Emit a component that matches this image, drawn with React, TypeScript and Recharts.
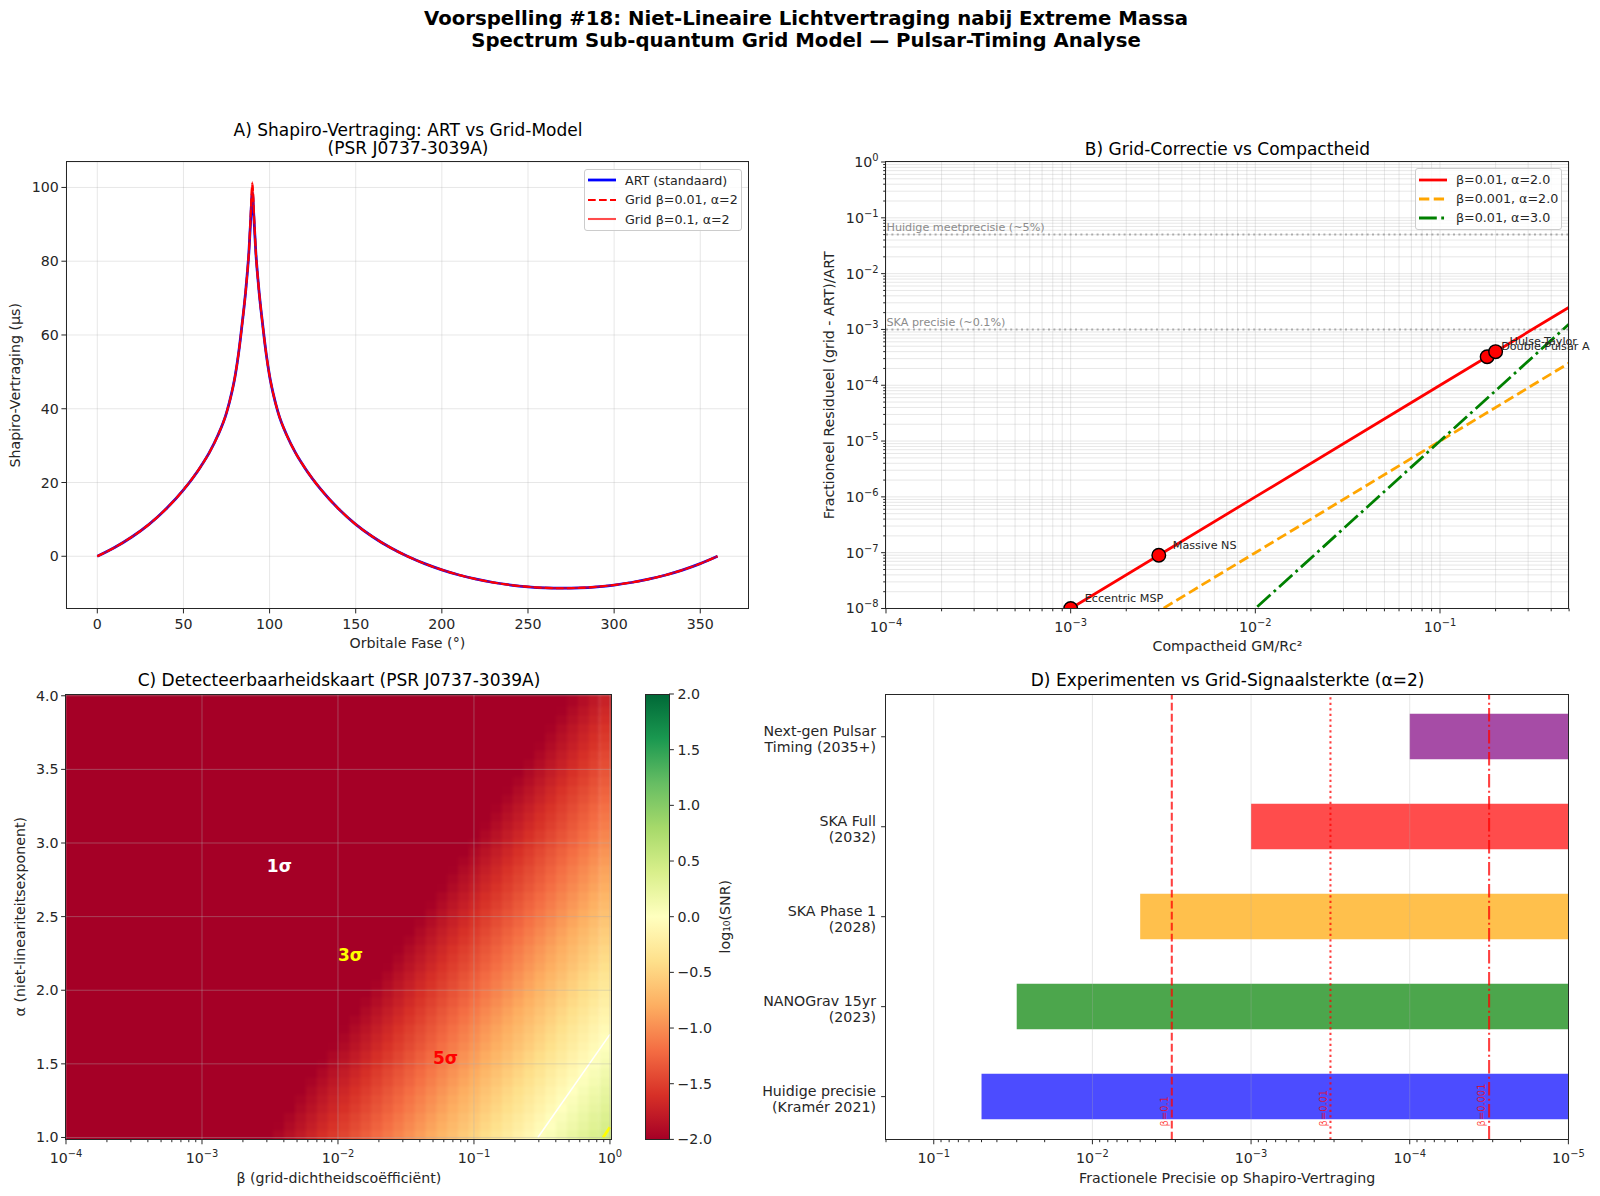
import {
  BarChart, Bar, Cell, CartesianGrid, ComposedChart, Legend, Line, LineChart, ReferenceDot,
  ReferenceLine, Scatter, ScatterChart, XAxis, YAxis,
} from 'recharts'

const FONT = '"DejaVu Sans", sans-serif'
const INK = '#262626'
const TICK_SIZE = 14.2

// A) Shapiro delay
const phases = [0, 10, 20, 30, 40, 50, 60, 65, 70, 75, 78, 80, 82, 83, 85, 86, 87, 88, 89, 90, 91, 92, 93, 94, 95, 97, 98, 100, 102, 105, 110, 115, 120, 130, 140, 150, 160, 170, 180, 190, 200, 210, 220, 230, 240, 250, 260, 270, 280, 290, 300, 310, 320, 330, 340, 350, 360]
const artDelay = [0, 2.38, 5.23, 8.66, 12.87, 18, 24.3, 28.1, 32.8, 38.9, 44.3, 48.9, 55, 58.7, 66.8, 71.2, 76.4, 82.5, 91, 98.6, 91, 82.5, 76.4, 71.2, 66.8, 58.7, 55, 48.9, 44.3, 38.9, 32.8, 28.1, 24.3, 18, 12.87, 8.66, 5.23, 2.38, 0, -2, -3.68, -5.07, -6.2, -7.11, -7.8, -8.28, -8.57, -8.66, -8.57, -8.28, -7.8, -7.11, -6.2, -5.07, -3.68, -2, 0]
const gridDelay001 = [0, 2.38, 5.23, 8.66, 12.87, 18, 24.3, 28.1, 32.8, 38.9, 44.3, 48.9, 55, 58.7, 66.8, 71.2, 76.4, 82.5, 92, 101, 92, 82.5, 76.4, 71.2, 66.8, 58.7, 55, 48.9, 44.3, 38.9, 32.8, 28.1, 24.3, 18, 12.87, 8.66, 5.23, 2.38, 0, -2, -3.68, -5.07, -6.2, -7.11, -7.8, -8.28, -8.57, -8.66, -8.57, -8.28, -7.8, -7.11, -6.2, -5.07, -3.68, -2, 0]
const gridDelay01 = [0, 2.38, 5.23, 8.66, 12.87, 18, 24.3, 28.1, 32.8, 38.9, 44.3, 48.9, 55, 58.7, 66.8, 71.2, 76.4, 82.6, 92.2, 101.4, 92.2, 82.6, 76.4, 71.2, 66.8, 58.7, 55, 48.9, 44.3, 38.9, 32.8, 28.1, 24.3, 18, 12.87, 8.66, 5.23, 2.38, 0, -2, -3.68, -5.07, -6.2, -7.11, -7.8, -8.28, -8.57, -8.66, -8.57, -8.28, -7.8, -7.11, -6.2, -5.07, -3.68, -2, 0]
const phaseTicks = [0, 50, 100, 150, 200, 250, 300, 350]
const delayTicks = [0, 20, 40, 60, 80, 100]

// B) residual vs compactness
const compactness = [1e-4, 1e-3, 1e-2, 1e-1, 0.5]
const residualA = [1e-10, 1e-8, 1e-6, 1e-4, 2.5e-3]
const residualB = [1e-11, 1e-9, 1e-7, 1e-5, 2.5e-4]
const residualC = [1e-14, 1e-11, 1e-8, 1e-5, 1.25e-3]
const pulsarNames = ['Eccentric MSP', 'Massive NS', 'Double Pulsar A', 'Hulse-Taylor']
const pulsarX = [1e-3, 3e-3, 0.18, 0.2]
const pulsarY = [1e-8, 9e-8, 3.24e-4, 4e-4]
const compactMajors = [1e-4, 1e-3, 1e-2, 1e-1]
const residualMajors = [1e-8, 1e-7, 1e-6, 1e-5, 1e-4, 1e-3, 1e-2, 1e-1, 1]
const minorSteps = [2, 3, 4, 5, 6, 7, 8, 9]

// C) log10(SNR). Each row starts at the beta=1 edge and runs to the left; columns past its end sit at the -2 floor.
const betaCenters = [0.93, 0.759, 0.631, 0.525, 0.437, 0.363, 0.302, 0.251, 0.209, 0.174, 0.145, 0.12, 0.1, 0.0832, 0.0692, 0.0575, 0.0479, 0.0398, 0.0331, 0.0275, 0.0229, 0.0191, 0.0158, 0.0132, 0.011, 9.12e-3, 7.59e-3, 6.31e-3, 5.25e-3, 4.37e-3, 3.63e-3, 3.02e-3, 2.51e-3, 2.09e-3, 1.74e-3, 1.45e-3, 1.2e-3, 1e-3, 8.32e-4, 6.92e-4, 5.75e-4, 4.79e-4, 3.98e-4, 3.31e-4, 2.75e-4, 2.29e-4, 1.91e-4, 1.58e-4, 1.32e-4, 1.1e-4]
const alphaCenters = [1.02, 1.08, 1.14, 1.2, 1.26, 1.32, 1.38, 1.44, 1.5, 1.56, 1.62, 1.68, 1.74, 1.8, 1.86, 1.92, 1.98, 2.04, 2.1, 2.16, 2.22, 2.28, 2.34, 2.4, 2.46, 2.52, 2.58, 2.64, 2.7, 2.76, 2.82, 2.88, 2.94, 3, 3.06, 3.12, 3.18, 3.24, 3.3, 3.36, 3.42, 3.48, 3.54, 3.6, 3.66, 3.72, 3.78, 3.84, 3.9, 3.96]
const snrRows = [
  [.46, .38, .30, .22, .14, .06, -.02, -.10, -.18, -.26, -.34, -.42, -.50, -.58, -.66, -.74, -.82, -.90, -.98, -1.06, -1.14, -1.22, -1.30, -1.38, -1.46, -1.54, -1.62, -1.70, -1.78, -1.86, -1.94],
  [.41, .33, .25, .17, .09, .01, -.07, -.15, -.23, -.31, -.39, -.47, -.55, -.63, -.71, -.79, -.87, -.95, -1.03, -1.11, -1.19, -1.27, -1.35, -1.43, -1.51, -1.59, -1.67, -1.75, -1.83, -1.91, -1.99],
  [.37, .29, .21, .13, .05, -.03, -.11, -.19, -.27, -.35, -.43, -.51, -.59, -.67, -.75, -.83, -.91, -.99, -1.07, -1.15, -1.23, -1.31, -1.39, -1.47, -1.55, -1.63, -1.71, -1.79, -1.87, -1.95],
  [.32, .24, .16, .08, 0, -.08, -.16, -.24, -.32, -.40, -.48, -.56, -.64, -.72, -.80, -.88, -.96, -1.04, -1.12, -1.20, -1.28, -1.36, -1.44, -1.52, -1.60, -1.68, -1.76, -1.84, -1.92],
  [.28, .20, .12, .04, -.04, -.12, -.20, -.28, -.36, -.44, -.52, -.60, -.68, -.76, -.84, -.92, -1.00, -1.08, -1.16, -1.24, -1.32, -1.40, -1.48, -1.56, -1.64, -1.72, -1.80, -1.88, -1.96],
  [.24, .16, .08, 0, -.08, -.16, -.24, -.32, -.40, -.48, -.56, -.64, -.72, -.80, -.88, -.96, -1.04, -1.12, -1.20, -1.28, -1.36, -1.44, -1.52, -1.60, -1.68, -1.76, -1.84, -1.92],
  [.19, .11, .03, -.05, -.13, -.21, -.29, -.37, -.45, -.53, -.61, -.69, -.77, -.85, -.93, -1.01, -1.09, -1.17, -1.25, -1.33, -1.41, -1.49, -1.57, -1.65, -1.73, -1.81, -1.89, -1.97],
  [.15, .07, -.01, -.09, -.17, -.25, -.33, -.41, -.49, -.57, -.65, -.73, -.81, -.89, -.97, -1.05, -1.13, -1.21, -1.29, -1.37, -1.45, -1.53, -1.61, -1.69, -1.77, -1.85, -1.93],
  [.10, .02, -.06, -.14, -.22, -.30, -.38, -.46, -.54, -.62, -.70, -.78, -.86, -.94, -1.02, -1.10, -1.18, -1.26, -1.34, -1.42, -1.50, -1.58, -1.66, -1.74, -1.82, -1.90, -1.98],
  [.06, -.02, -.10, -.18, -.26, -.34, -.42, -.50, -.58, -.66, -.74, -.82, -.90, -.98, -1.06, -1.14, -1.22, -1.30, -1.38, -1.46, -1.54, -1.62, -1.70, -1.78, -1.86, -1.94],
  [.01, -.07, -.15, -.23, -.31, -.39, -.47, -.55, -.63, -.71, -.79, -.87, -.95, -1.03, -1.11, -1.19, -1.27, -1.35, -1.43, -1.51, -1.59, -1.67, -1.75, -1.83, -1.91, -1.99],
  [-.03, -.11, -.19, -.27, -.35, -.43, -.51, -.59, -.67, -.75, -.83, -.91, -.99, -1.07, -1.15, -1.23, -1.31, -1.39, -1.47, -1.55, -1.63, -1.71, -1.79, -1.87, -1.95],
  [-.07, -.15, -.23, -.31, -.39, -.47, -.55, -.63, -.71, -.79, -.87, -.95, -1.03, -1.11, -1.19, -1.27, -1.35, -1.43, -1.51, -1.59, -1.67, -1.75, -1.83, -1.91, -1.99],
  [-.12, -.20, -.28, -.36, -.44, -.52, -.60, -.68, -.76, -.84, -.92, -1.00, -1.08, -1.16, -1.24, -1.32, -1.40, -1.48, -1.56, -1.64, -1.72, -1.80, -1.88, -1.96],
  [-.16, -.24, -.32, -.40, -.48, -.56, -.64, -.72, -.80, -.88, -.96, -1.04, -1.12, -1.20, -1.28, -1.36, -1.44, -1.52, -1.60, -1.68, -1.76, -1.84, -1.92],
  [-.21, -.29, -.37, -.45, -.53, -.61, -.69, -.77, -.85, -.93, -1.01, -1.09, -1.17, -1.25, -1.33, -1.41, -1.49, -1.57, -1.65, -1.73, -1.81, -1.89, -1.97],
  [-.25, -.33, -.41, -.49, -.57, -.65, -.73, -.81, -.89, -.97, -1.05, -1.13, -1.21, -1.29, -1.37, -1.45, -1.53, -1.61, -1.69, -1.77, -1.85, -1.93],
  [-.30, -.38, -.46, -.54, -.62, -.70, -.78, -.86, -.94, -1.02, -1.10, -1.18, -1.26, -1.34, -1.42, -1.50, -1.58, -1.66, -1.74, -1.82, -1.90, -1.98],
  [-.34, -.42, -.50, -.58, -.66, -.74, -.82, -.90, -.98, -1.06, -1.14, -1.22, -1.30, -1.38, -1.46, -1.54, -1.62, -1.70, -1.78, -1.86, -1.94],
  [-.39, -.47, -.55, -.63, -.71, -.79, -.87, -.95, -1.03, -1.11, -1.19, -1.27, -1.35, -1.43, -1.51, -1.59, -1.67, -1.75, -1.83, -1.91, -1.99],
  [-.43, -.51, -.59, -.67, -.75, -.83, -.91, -.99, -1.07, -1.15, -1.23, -1.31, -1.39, -1.47, -1.55, -1.63, -1.71, -1.79, -1.87, -1.95],
  [-.47, -.55, -.63, -.71, -.79, -.87, -.95, -1.03, -1.11, -1.19, -1.27, -1.35, -1.43, -1.51, -1.59, -1.67, -1.75, -1.83, -1.91, -1.99],
  [-.52, -.60, -.68, -.76, -.84, -.92, -1.00, -1.08, -1.16, -1.24, -1.32, -1.40, -1.48, -1.56, -1.64, -1.72, -1.80, -1.88, -1.96],
  [-.56, -.64, -.72, -.80, -.88, -.96, -1.04, -1.12, -1.20, -1.28, -1.36, -1.44, -1.52, -1.60, -1.68, -1.76, -1.84, -1.92],
  [-.61, -.69, -.77, -.85, -.93, -1.01, -1.09, -1.17, -1.25, -1.33, -1.41, -1.49, -1.57, -1.65, -1.73, -1.81, -1.89, -1.97],
  [-.65, -.73, -.81, -.89, -.97, -1.05, -1.13, -1.21, -1.29, -1.37, -1.45, -1.53, -1.61, -1.69, -1.77, -1.85, -1.93],
  [-.70, -.78, -.86, -.94, -1.02, -1.10, -1.18, -1.26, -1.34, -1.42, -1.50, -1.58, -1.66, -1.74, -1.82, -1.90, -1.98],
  [-.74, -.82, -.90, -.98, -1.06, -1.14, -1.22, -1.30, -1.38, -1.46, -1.54, -1.62, -1.70, -1.78, -1.86, -1.94],
  [-.79, -.87, -.95, -1.03, -1.11, -1.19, -1.27, -1.35, -1.43, -1.51, -1.59, -1.67, -1.75, -1.83, -1.91, -1.99],
  [-.83, -.91, -.99, -1.07, -1.15, -1.23, -1.31, -1.39, -1.47, -1.55, -1.63, -1.71, -1.79, -1.87, -1.95],
  [-.87, -.95, -1.03, -1.11, -1.19, -1.27, -1.35, -1.43, -1.51, -1.59, -1.67, -1.75, -1.83, -1.91, -1.99],
  [-.92, -1.00, -1.08, -1.16, -1.24, -1.32, -1.40, -1.48, -1.56, -1.64, -1.72, -1.80, -1.88, -1.96],
  [-.96, -1.04, -1.12, -1.20, -1.28, -1.36, -1.44, -1.52, -1.60, -1.68, -1.76, -1.84, -1.92],
  [-1.01, -1.09, -1.17, -1.25, -1.33, -1.41, -1.49, -1.57, -1.65, -1.73, -1.81, -1.89, -1.97],
  [-1.05, -1.13, -1.21, -1.29, -1.37, -1.45, -1.53, -1.61, -1.69, -1.77, -1.85, -1.93],
  [-1.10, -1.18, -1.26, -1.34, -1.42, -1.50, -1.58, -1.66, -1.74, -1.82, -1.90, -1.98],
  [-1.14, -1.22, -1.30, -1.38, -1.46, -1.54, -1.62, -1.70, -1.78, -1.86, -1.94],
  [-1.18, -1.26, -1.34, -1.42, -1.50, -1.58, -1.66, -1.74, -1.82, -1.90, -1.98],
  [-1.23, -1.31, -1.39, -1.47, -1.55, -1.63, -1.71, -1.79, -1.87, -1.95],
  [-1.27, -1.35, -1.43, -1.51, -1.59, -1.67, -1.75, -1.83, -1.91, -1.99],
  [-1.32, -1.40, -1.48, -1.56, -1.64, -1.72, -1.80, -1.88, -1.96],
  [-1.36, -1.44, -1.52, -1.60, -1.68, -1.76, -1.84, -1.92],
  [-1.41, -1.49, -1.57, -1.65, -1.73, -1.81, -1.89, -1.97],
  [-1.45, -1.53, -1.61, -1.69, -1.77, -1.85, -1.93],
  [-1.50, -1.58, -1.66, -1.74, -1.82, -1.90, -1.98],
  [-1.54, -1.62, -1.70, -1.78, -1.86, -1.94],
  [-1.58, -1.66, -1.74, -1.82, -1.90, -1.98],
  [-1.63, -1.71, -1.79, -1.87, -1.95],
  [-1.67, -1.75, -1.83, -1.91, -1.99],
  [-1.72, -1.80, -1.88, -1.96],
]
const contour1Beta = [0.295, 1]
const contour1Alpha = [1, 1.7]
const contour3Beta = [0.89, 1]
const contour3Alpha = [1, 1.07]
const betaMajors = [1e-4, 1e-3, 1e-2, 1e-1, 1]
const alphaTicks = [1, 1.5, 2, 2.5, 3, 3.5, 4]
const sigmaNames = ['1σ', '3σ', '5σ']
const sigmaBeta = [3e-3, 1e-2, 0.05]
const sigmaAlpha = [2.8, 2.2, 1.5]
const sigmaColors = ['#ffffff', '#ffff00', '#ff0000']
const colorbarTicks = [-2, -1.5, -1, -0.5, 0, 0.5, 1, 1.5, 2]
const rdYlGn = ['#a50026', '#d73027', '#f46d43', '#fdae61', '#fee08b', '#ffffbf', '#d9ef8b', '#a6d96a', '#66bd63', '#1a9850', '#006837']
const BETA_RANGE = [1e-4, 1.03]
const ALPHA_RANGE = [0.987, 4.012]

// D) experiments
const experimentNames = ['Next-gen Pulsar\nTiming (2035+)', 'SKA Full\n(2032)', 'SKA Phase 1\n(2028)', 'NANOGrav 15yr\n(2023)', 'Huidige precisie\n(Kramér 2021)']
const experimentFrom = [1e-4, 1e-3, 5e-3, 0.03, 0.05]
const experimentTo = [1e-5, 1e-5, 1e-5, 1e-5, 1e-5]
const experimentColors = ['purple', 'red', 'orange', 'green', 'blue']
const precisionMajors = [1e-5, 1e-4, 1e-3, 1e-2, 1e-1]
const signalNames = ['β=0.1', 'β=0.01', 'β=0.001']
const signalLevels = [3.16e-3, 3.16e-4, 3.16e-5]
const signalDashes = ['7.7 3.3', '2.1 3.4', '13.3 3.3 2.1 3.3']

const delayTable = phases.map((phase, i) => ({ phase, art: artDelay[i], grid001: gridDelay001[i], grid01: gridDelay01[i] }))
const residualTable = compactness.map((x, i) => ({ x, a: residualA[i], b: residualB[i], c: residualC[i] }))
const pulsarTable = pulsarNames.map((name, i) => ({ name, x: pulsarX[i], y: pulsarY[i] }))
const heatCells = alphaCenters.flatMap((alpha, i) => betaCenters.map((beta, r) => ({ beta, alpha, snr: snrRows[i][r] ?? -2, row: i, col: r })))
const experimentTable = experimentNames.map((name, i) => ({ name, range: [experimentFrom[i], experimentTo[i]] }))

const withMinors = (majors: number[], max: number) =>
  [...majors, ...majors.flatMap((m) => minorSteps.map((s) => m * s))].filter((v) => v <= max * 1.0001)

function snrColor(v: number) {
  const t = Math.min(Math.max((v + 2) / 4, 0), 1) * (rdYlGn.length - 1)
  const i = Math.min(Math.floor(t), rdYlGn.length - 2)
  const mix = (a: number, b: number) => Math.round(a + (b - a) * (t - i))
  const rgb = (h: string) => [1, 3, 5].map((k) => parseInt(h.slice(k, k + 2), 16))
  const [p, q] = [rgb(rdYlGn[i]), rgb(rdYlGn[i + 1])]
  return `rgb(${mix(p[0], q[0])},${mix(p[1], q[1])},${mix(p[2], q[2])})`
}

// outer cells run past the plot so the blur on the layer does not fade at the clip edge
function HeatCell({ cx, cy, payload }: any) {
  const { row, col, snr } = payload
  const left = cx - 6 - (col === betaCenters.length - 1 ? 8 : 0)
  const right = cx + 6 + (col === 0 ? 8 : 0)
  const top = cy - 4.8 - (row === alphaCenters.length - 1 ? 8 : 0)
  const bottom = cy + 4.8 + (row === 0 ? 8 : 0)
  return <rect x={left} y={top} width={right - left} height={bottom - top} fill={snrColor(snr)} />
}

function TickText({ x, y, anchor, value, log }: any) {
  if (log) {
    const exp = Math.round(Math.log10(value))
    return (
      <text x={x} y={y} textAnchor={anchor} fontSize={TICK_SIZE} fontFamily={FONT} fill={INK}>
        10<tspan fontSize={9.9} dy={-6}>{exp < 0 ? `−${-exp}` : exp}</tspan>
      </text>
    )
  }
  return <text x={x} y={y} textAnchor={anchor} fontSize={TICK_SIZE} fontFamily={FONT} fill={INK}>{value}</text>
}

// one tick renderer for all panels: log axes pass minors too, which get a short mark and no label
function AxisTick({ x, y, payload, side, log, digits = 0 }: any) {
  const v = payload.value
  const major = !log || Math.abs(Math.log10(v) - Math.round(Math.log10(v))) < 1e-6
  const len = major ? 4.9 : 2.8
  const text = log ? v : v.toFixed(digits).replace('-', '−')
  if (side === 'bottom') {
    return (
      <g>
        <line x1={x} x2={x} y1={y} y2={y + len} stroke={INK} />
        {major && <TickText x={x} y={y + (log ? 23.5 : 20.5)} anchor="middle" value={text} log={log} />}
      </g>
    )
  }
  if (side === 'right') {
    return (
      <g>
        <line x1={x} x2={x + len} y1={y} y2={y} stroke={INK} />
        <TickText x={x + 8.5} y={y + 5} anchor="start" value={text} />
      </g>
    )
  }
  return (
    <g>
      <line x1={x - len} x2={x} y1={y} y2={y} stroke={INK} />
      {major && <TickText x={x - 7.5} y={y + 5} anchor="end" value={text} log={log} />}
    </g>
  )
}

function ExperimentTick({ x, y, payload }: any) {
  const [first, second] = payload.value.split('\n')
  return (
    <g>
      <line x1={x - 4.9} x2={x} y1={y} y2={y} stroke={INK} />
      <text x={x - 10} y={y - 1} textAnchor="end" fontSize={TICK_SIZE} fontFamily={FONT} fill={INK}>{first}</text>
      <text x={x - 10} y={y + 15} textAnchor="end" fontSize={TICK_SIZE} fontFamily={FONT} fill={INK}>{second}</text>
    </g>
  )
}

const tickProps = (side: string, log = false, digits = 0) => ({
  tick: (p: any) => <AxisTick {...p} side={side} log={log} digits={digits} />,
  tickLine: false,
  axisLine: false,
  tickSize: 0,
  tickMargin: 0,
  interval: 0 as const,
})

const axisLabel = (value: string, offset: number, position: string, angle = 0) => ({
  value, offset, position, angle, fill: INK, fontSize: TICK_SIZE, fontFamily: FONT, style: { textAnchor: 'middle' },
})

const chartSize = (p: any, g: any) => ({
  width: p.r - p.l + g.left + g.right,
  height: p.b - p.t + g.top + g.bottom,
  margin: { top: g.top, right: g.right, left: 0, bottom: 0 },
})

function Panel({ plot, gutter, children }: any) {
  return (
    <>
      <div style={{ position: 'absolute', left: plot.l - gutter.left, top: plot.t - gutter.top }}>{children}</div>
      <div style={{
        position: 'absolute', left: plot.l - 0.6, top: plot.t - 0.6, width: plot.r - plot.l + 1.2, height: plot.b - plot.t + 1.2,
        border: `1.1px solid ${INK}`, boxSizing: 'border-box', pointerEvents: 'none',
      }} />
    </>
  )
}

function Caption({ cx, cy, lines, size = 17, weight = 'normal', gap = 18.6 }: any) {
  return (
    <div style={{
      position: 'absolute', left: cx - 500, width: 1000, top: cy - gap / 2, textAlign: 'center', fontFamily: FONT,
      fontSize: size, fontWeight: weight, lineHeight: `${gap}px`, color: '#000', whiteSpace: 'nowrap',
    }}>
      {lines.map((l: string) => <div key={l}>{l}</div>)}
    </div>
  )
}

function LegendBox({ entries, rowHeight }: any) {
  return (
    <div style={{
      boxSizing: 'border-box', width: '100%', height: '100%', background: 'rgba(255,255,255,0.8)', border: '1px solid #cccccc',
      borderRadius: 3, padding: '1px 3px', fontFamily: FONT, fontSize: 12.7, color: INK,
    }}>
      {entries.map((e: any) => (
        <div key={e.name} style={{ display: 'flex', alignItems: 'center', height: rowHeight }}>
          <svg width={28} height={10} style={{ marginRight: 9, flex: 'none' }}>
            <line x1={0} x2={28} y1={5} y2={5} stroke={e.color} strokeWidth={e.width} strokeDasharray={e.dash} strokeOpacity={e.opacity ?? 1} />
          </svg>
          <span style={{ whiteSpace: 'nowrap' }}>{e.name}</span>
        </div>
      ))}
    </div>
  )
}

const legendA = [
  { name: 'ART (standaard)', color: 'blue', width: 2.78 },
  { name: 'Grid β=0.01, α=2', color: 'red', width: 2.08, dash: '7.7 3.3' },
  { name: 'Grid β=0.1, α=2', color: 'red', width: 2.08, opacity: 0.7 },
]
const legendB = [
  { name: 'β=0.01, α=2.0', color: 'red', width: 2.78 },
  { name: 'β=0.001, α=2.0', color: 'orange', width: 2.78, dash: '10.3 4.45' },
  { name: 'β=0.01, α=3.0', color: 'green', width: 2.78, dash: '17.8 4.45 2.78 4.45' },
]
const legendProps = { layout: 'vertical' as const, align: 'center' as const, verticalAlign: 'middle' as const }

const plotA = { l: 66.3, t: 161.5, r: 748.5, b: 608 }
const plotB = { l: 885.7, t: 161.5, r: 1568.8, b: 608 }
const plotC = { l: 66, t: 694.2, r: 611.7, b: 1139.6 }
const plotBar = { l: 646, t: 694.2, r: 669, b: 1139.6 }
const plotD = { l: 885.9, t: 694.2, r: 1568.3, b: 1139.6 }
const gutterA = { left: 66.3, top: 10, right: 20, bottom: 50 }
const gutterB = { left: 70, top: 10, right: 31, bottom: 50 }
const gutterC = { left: 66, top: 10, right: 10, bottom: 52 }
const gutterD = { left: 140, top: 10, right: 20, bottom: 52 }
const gridStroke = { stroke: '#b0b0b0', strokeOpacity: 0.3, strokeWidth: 1 }
const heatGridLine = { stroke: '#b0b0b0', strokeOpacity: 0.38, strokeWidth: 1 }

function PanelA() {
  return (
    <Panel plot={plotA} gutter={gutterA}>
      <LineChart {...chartSize(plotA, gutterA)} data={delayTable}>
        <CartesianGrid {...gridStroke} />
        <XAxis dataKey="phase" type="number" domain={[-18, 378]} ticks={phaseTicks} height={gutterA.bottom} allowDataOverflow
          {...tickProps('bottom')} label={axisLabel('Orbitale Fase (°)', 10.5, 'insideBottom')} />
        <YAxis type="number" domain={[-14.16, 106.9]} ticks={delayTicks} width={gutterA.left} allowDataOverflow
          {...tickProps('left')} label={axisLabel('Shapiro-Vertraging (µs)', 15, 'insideLeft', -90)} />
        <Line dataKey="art" type="monotone" stroke="blue" strokeWidth={2.78} dot={false} isAnimationActive={false} />
        <Line dataKey="grid001" type="monotone" stroke="red" strokeWidth={2.08} strokeDasharray="7.7 3.3" dot={false} isAnimationActive={false} />
        <Line dataKey="grid01" type="monotone" stroke="red" strokeOpacity={0.7} strokeWidth={2.08} dot={false} isAnimationActive={false} />
        <Legend {...legendProps} wrapperStyle={{ left: 584, top: 17, width: 158, height: 62 }} content={() => <LegendBox entries={legendA} rowHeight={19.5} />} />
      </LineChart>
    </Panel>
  )
}

const precisionLabel = (text: string) => ({ viewBox }: any) => (
  <text x={viewBox.x + 0.5} y={viewBox.y - 3.8} fontSize={11.2} fontFamily={FONT} fill="#8c8c8c">{text}</text>
)

function PanelB() {
  return (
    <Panel plot={plotB} gutter={gutterB}>
      <ComposedChart {...chartSize(plotB, gutterB)} data={residualTable}>
        <CartesianGrid {...gridStroke} />
        <XAxis dataKey="x" type="number" scale="log" domain={[1e-4, 0.5]} ticks={withMinors(compactMajors, 0.5)} height={gutterB.bottom} allowDataOverflow
          {...tickProps('bottom', true)} label={axisLabel('Compactheid GM/Rc²', 7.5, 'insideBottom')} />
        <YAxis type="number" scale="log" domain={[1e-8, 1]} ticks={withMinors(residualMajors, 1)} width={gutterB.left} allowDataOverflow
          {...tickProps('left', true)} label={axisLabel('Fractioneel Residueel (grid - ART)/ART', 13.3, 'insideLeft', -90)} />
        <ReferenceLine y={0.05} stroke="#808080" strokeOpacity={0.6} strokeWidth={2} strokeDasharray="2 3.4" label={precisionLabel('Huidige meetprecisie (~5%)')} />
        <ReferenceLine y={1e-3} stroke="#808080" strokeOpacity={0.6} strokeWidth={2} strokeDasharray="2 3.4" label={precisionLabel('SKA precisie (~0.1%)')} />
        <Line dataKey="a" stroke="red" strokeWidth={2.78} dot={false} isAnimationActive={false} />
        <Line dataKey="b" stroke="orange" strokeWidth={2.78} strokeDasharray="10.3 4.45" dot={false} isAnimationActive={false} />
        <Line dataKey="c" stroke="green" strokeWidth={2.78} strokeDasharray="17.8 4.45 2.78 4.45" dot={false} isAnimationActive={false} />
        <Scatter data={pulsarTable} dataKey="y" isAnimationActive={false}
          shape={(p: any) => <circle cx={p.cx} cy={p.cy} r={6.8} fill="red" stroke="black" strokeWidth={1.4} />} />
        {pulsarTable.map((d) => (
          <ReferenceDot key={d.name} x={d.x} y={d.y} ifOverflow="visible"
            shape={(p: any) => <text x={p.cx + 14} y={p.cy - 6.5} fontSize={11.2} fontFamily={FONT} fill={INK}>{d.name}</text>} />
        ))}
        <Legend {...legendProps} wrapperStyle={{ left: 599.3, top: 16.5, width: 147, height: 62 }} content={() => <LegendBox entries={legendB} rowHeight={19} />} />
      </ComposedChart>
    </Panel>
  )
}

function PanelC() {
  return (
    <Panel plot={plotC} gutter={gutterC}>
      <style>{'.snr-cells { filter: blur(1.6px); }'}</style>
      <ScatterChart {...chartSize(plotC, gutterC)}>
        <XAxis dataKey="beta" type="number" scale="log" domain={BETA_RANGE} ticks={withMinors(betaMajors, 1)} height={gutterC.bottom} allowDataOverflow
          {...tickProps('bottom', true)} label={axisLabel('β (grid-dichtheidscoëfficiënt)', 8, 'insideBottom')} />
        <YAxis dataKey="alpha" type="number" domain={ALPHA_RANGE} ticks={alphaTicks} width={gutterC.left} allowDataOverflow
          {...tickProps('left', false, 1)} label={axisLabel('α (niet-lineariteitsexponent)', 20, 'insideLeft', -90)} />
        <Scatter className="snr-cells" data={heatCells} isAnimationActive={false} shape={(p: any) => <HeatCell {...p} />} />
        <Scatter data={contour1Beta.map((beta, i) => ({ beta, alpha: contour1Alpha[i] }))} isAnimationActive={false}
          line={{ stroke: '#ffffff', strokeWidth: 1.5 }} shape={() => <g />} />
        <Scatter data={contour3Beta.map((beta, i) => ({ beta, alpha: contour3Alpha[i] }))} isAnimationActive={false}
          line={{ stroke: '#ffff00', strokeWidth: 2.8 }} shape={() => <g />} />
        {betaMajors.map((v) => (
          <Scatter key={v} data={ALPHA_RANGE.map((alpha) => ({ beta: v, alpha }))} isAnimationActive={false} line={heatGridLine} shape={() => <g />} />
        ))}
        {alphaTicks.map((v) => (
          <Scatter key={v} data={BETA_RANGE.map((beta) => ({ beta, alpha: v }))} isAnimationActive={false} line={heatGridLine} shape={() => <g />} />
        ))}
        {sigmaNames.map((name, i) => (
          <ReferenceDot key={name} x={sigmaBeta[i]} y={sigmaAlpha[i]} ifOverflow="visible"
            shape={(p: any) => <text x={p.cx} y={p.cy} fontSize={17} fontWeight="bold" fontFamily={FONT} fill={sigmaColors[i]}>{name}</text>} />
        ))}
      </ScatterChart>
    </Panel>
  )
}

function Colorbar() {
  const gutter = { left: 0, top: 10, right: 80, bottom: 12 }
  return (
    <Panel plot={plotBar} gutter={gutter}>
      <BarChart width={plotBar.r - plotBar.l + gutter.right} height={plotBar.b - plotBar.t + gutter.top + gutter.bottom}
        margin={{ top: gutter.top, right: 0, left: 0, bottom: gutter.bottom }}
        data={[{ name: 'log10SNR', range: [-2, 2] }]} barCategoryGap={0}>
        <defs>
          <linearGradient id="snrScale" x1="0" y1="1" x2="0" y2="0">
            {rdYlGn.map((c, i) => <stop key={c} offset={i / (rdYlGn.length - 1)} stopColor={c} />)}
          </linearGradient>
        </defs>
        <XAxis dataKey="name" hide />
        <YAxis orientation="right" type="number" domain={[-2, 2]} ticks={colorbarTicks} width={gutter.right}
          {...tickProps('right', false, 1)} label={axisLabel('log₁₀(SNR)', 24, 'insideRight', -90)} />
        <Bar dataKey="range" fill="url(#snrScale)" isAnimationActive={false} />
      </BarChart>
    </Panel>
  )
}

const signalLabel = (text: string) => ({ viewBox }: any) => {
  const x = viewBox.x - 3.7
  const y = viewBox.y + viewBox.height - 13
  return <text x={x} y={y} transform={`rotate(-90 ${x} ${y})`} fontSize={9.9} fontFamily={FONT} fill="red" fillOpacity={0.75}>{text}</text>
}

function PanelD() {
  return (
    <Panel plot={plotD} gutter={gutterD}>
      <BarChart {...chartSize(plotD, gutterD)} data={experimentTable} layout="vertical">
        {precisionMajors.map((v) => <ReferenceLine key={v} x={v} {...gridStroke} />)}
        <XAxis type="number" scale="log" reversed domain={[1e-5, 0.2]} ticks={withMinors(precisionMajors, 0.2)} height={gutterD.bottom} allowDataOverflow
          {...tickProps('bottom', true)} label={axisLabel('Fractionele Precisie op Shapiro-Vertraging', 8, 'insideBottom')} />
        <YAxis type="category" dataKey="name" width={gutterD.left} padding={{ top: -2.2, bottom: -2.2 }} tick={(p: any) => <ExperimentTick {...p} />}
          tickLine={false} axisLine={false} tickSize={0} tickMargin={0} interval={0} />
        <Bar dataKey="range" barSize={45.5} isAnimationActive={false}>
          {experimentColors.map((c) => <Cell key={c} fill={c} fillOpacity={0.7} />)}
        </Bar>
        {signalLevels.map((v, i) => (
          <ReferenceLine key={v} x={v} zIndex={700} stroke="red" strokeOpacity={0.75} strokeWidth={2.08} strokeDasharray={signalDashes[i]} label={signalLabel(signalNames[i])} />
        ))}
      </BarChart>
    </Panel>
  )
}

export default function App() {
  return (
    <div style={{ position: 'relative', width: 1600, height: 1196, margin: -8, background: '#fff', overflow: 'hidden' }}>
      <Caption cx={806} cy={19} lines={['Voorspelling #18: Niet-Lineaire Lichtvertraging nabij Extreme Massa', 'Spectrum Sub-quantum Grid Model — Pulsar-Timing Analyse']} size={19.7} weight="bold" gap={21.8} />
      <Caption cx={408} cy={130} lines={['A) Shapiro-Vertraging: ART vs Grid-Model', '(PSR J0737-3039A)']} />
      <Caption cx={1227.5} cy={149} lines={['B) Grid-Correctie vs Compactheid']} />
      <Caption cx={339} cy={680.5} lines={['C) Detecteerbaarheidskaart (PSR J0737-3039A)']} />
      <Caption cx={1227.6} cy={680.5} lines={['D) Experimenten vs Grid-Signaalsterkte (α=2)']} />
      <PanelA />
      <PanelB />
      <PanelC />
      <Colorbar />
      <PanelD />
    </div>
  )
}
